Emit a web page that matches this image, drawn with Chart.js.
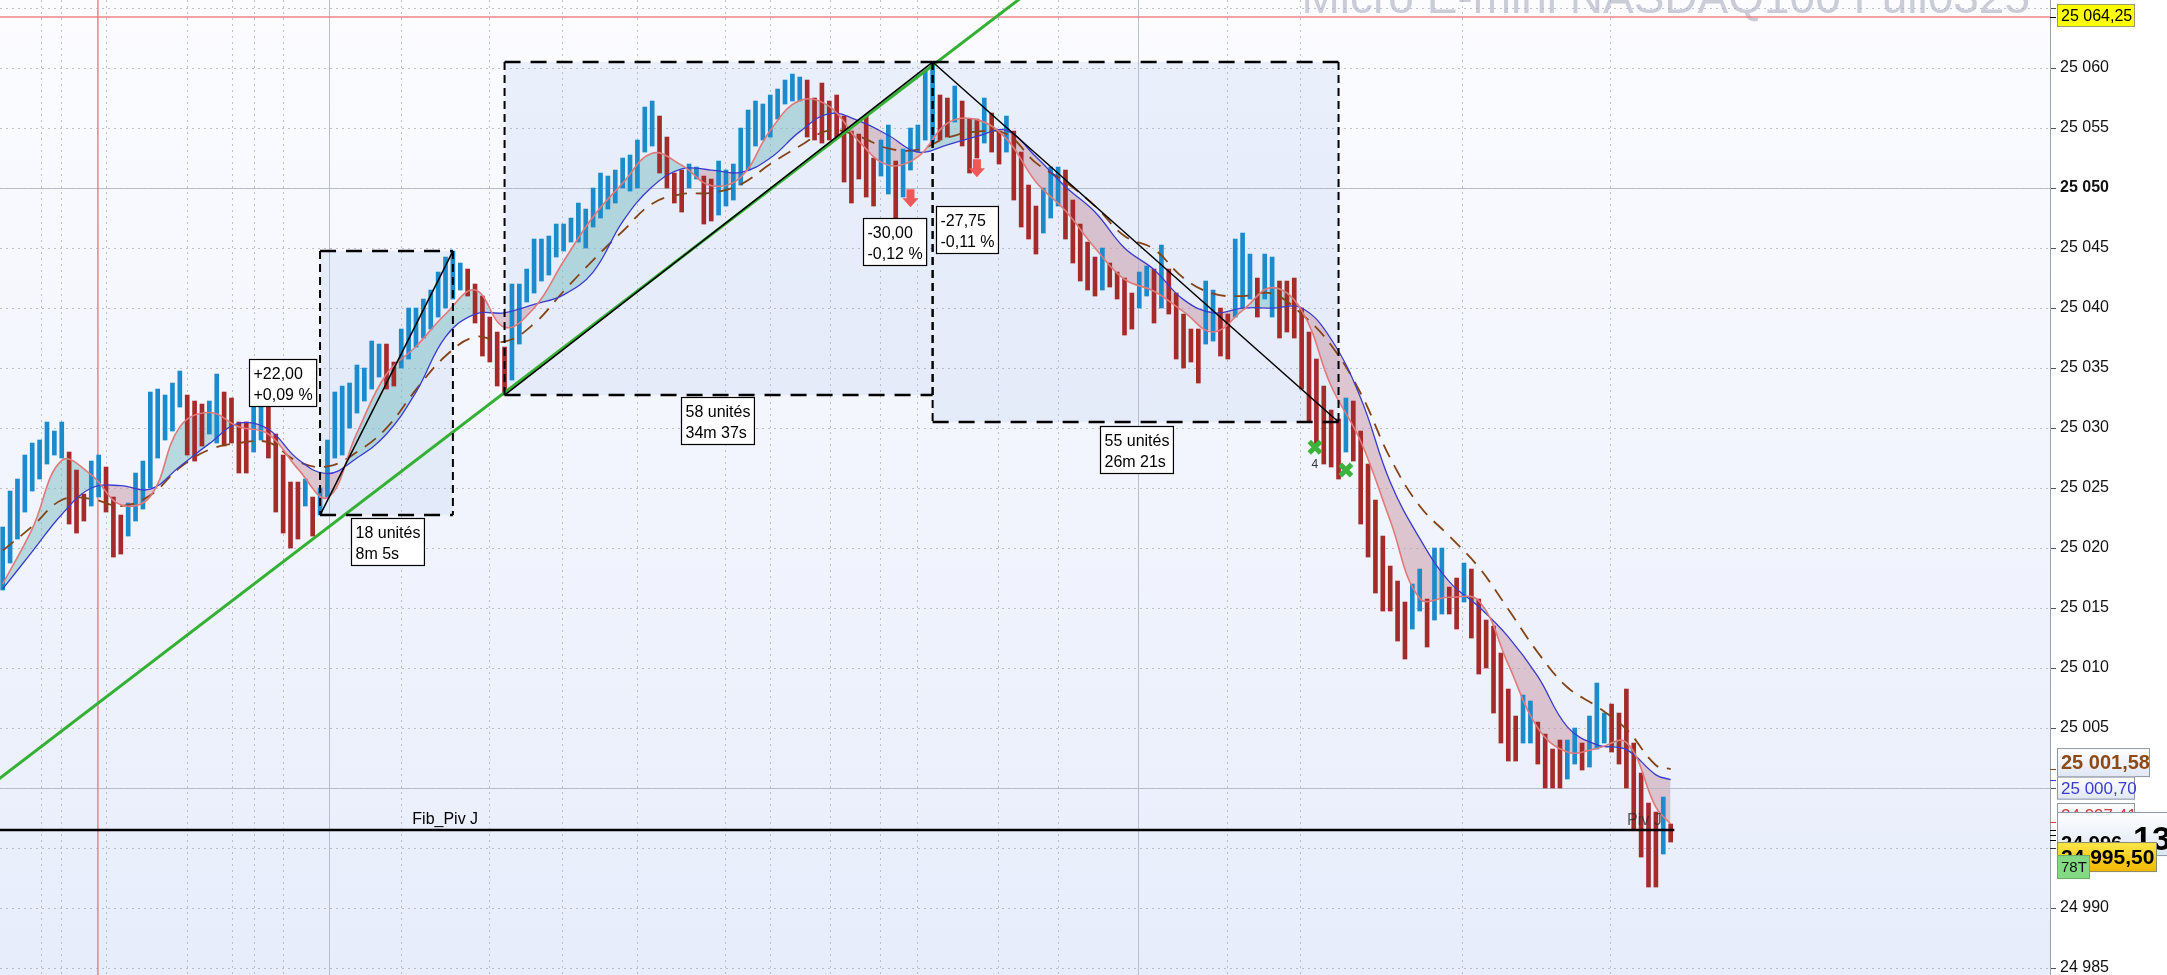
<!DOCTYPE html>
<html>
<head>
<meta charset="utf-8">
<script src="https://cdn.jsdelivr.net/npm/chart.js@4.4.1/dist/chart.umd.min.js"></script>
<style>
  html, body { margin: 0; padding: 0; background: #fff; overflow: hidden; }
  #wrap { width: 2167px; height: 975px; position: relative; }
</style>
</head>
<body>
<div id="wrap"><canvas id="chart"></canvas></div>
<script>
const FONT = '"Liberation Sans", Arial, sans-serif';
const TITLE = 'Micro E-mini NASDAQ100 Full0325';

// range bars, one per index
const highs = [
  25021.75, 25024.75, 25025.75, 25027.75, 25028.75, 25029, 25030.5, 25029.75, 25030.5, 25028,
  25026.5, 25024.5, 25027.25, 25027.75, 25026.75, 25024.25, 25022.75, 25023.75, 25026.25, 25027.25,
  25033, 25033.25, 25032.75, 25033.75, 25034.75, 25032.75, 25032.25, 25032, 25032.25, 25034.5,
  25033, 25032.5, 25030.5, 25030.5, 25031.75, 25032.5, 25031.75, 25029.5, 25027.75, 25025.5,
  25025.5, 25025.75, 25024.25, 25025, 25029, 25033, 25033.5, 25033.75, 25035.25, 25035,
  25037.25, 25037, 25037, 25035.5, 25038.25, 25040, 25040, 25040.75, 25041.5, 25043,
  25044.25, 25044.75, 25043.75, 25043.25, 25042, 25041, 25039.25, 25038, 25036.75, 25042,
  25042, 25043.25, 25045.75, 25045.75, 25046, 25047, 25047, 25047.5, 25048.75, 25048.25,
  25050, 25051.25, 25051, 25051.5, 25052.5, 25052.75, 25054, 25056.75, 25057.25, 25056,
  25054.25, 25051.25, 25051.5, 25052, 25051.75, 25051, 25050.75, 25052.25, 25051.5, 25052,
  25055, 25056.5, 25057.25, 25057, 25057.75, 25058.25, 25059, 25059.5, 25059.25, 25059,
  25057.5, 25058.75, 25057.25, 25057.75, 25056, 25054.75, 25054.5, 25056, 25052.5, 25054,
  25055.25, 25052.25, 25053.25, 25055, 25055.25, 25059.75, 25060.5, 25057.75, 25057.5, 25058.5,
  25057.25, 25055.75, 25055.75, 25057.5, 25056.25, 25054.75, 25056, 25054.75, 25053, 25050.25,
  25048.5, 25050, 25051.75, 25051.75, 25051.5, 25049, 25047, 25045.5, 25044.25, 25045,
  25043.75, 25043, 25042.5, 25041.25, 25043, 25043.5, 25043.25, 25045.25, 25043.25, 25041.25,
  25039.5, 25038.25, 25038.25, 25042.25, 25041.5, 25040, 25039.5, 25045.75, 25046.25, 25044.5,
  25042.5, 25044.5, 25044.25, 25042.25, 25042.25, 25042.5, 25040, 25038, 25035.75, 25033.5,
  25031.5, 25030.75, 25032.5, 25032.25, 25029.75, 25027, 25024, 25021, 25018.5, 25017.25,
  25015.5, 25017, 25018.25, 25015.75, 25020, 25020, 25016.75, 25017.5, 25018.75, 25018.25,
  25015.75, 25014, 25013.5, 25011.25, 25008.25, 25006, 25007.75, 25007.25, 25005.5, 25004.5,
  25003.25, 25004, 25004, 25005, 25003.75, 25006, 25008.75, 25006.25, 25007, 25006.25,
  25008.25, 25003.75, 25001.25, 24998.75, 24998, 24999.25, 24997
];
const lows = [
  25016.5, 25018.75, 25020.75, 25023, 25024.75, 25025.75, 25027, 25027.75, 25027.5, 25022,
  25021.25, 25022.25, 25023.5, 25024.25, 25023, 25019.25, 25019.5, 25021, 25022.25, 25023.25,
  25025, 25027.5, 25029, 25029.75, 25031.75, 25027.75, 25027.25, 25028.5, 25029.5, 25028.75,
  25028.5, 25028.75, 25026.25, 25026.25, 25028, 25029, 25027.5, 25023, 25021.25, 25020,
  25020.75, 25023.5, 25021, 25022.75, 25024.25, 25027.5, 25027.75, 25030, 25031.25, 25032.25,
  25033.25, 25034.25, 25033.25, 25033.5, 25035, 25035.75, 25036.75, 25037.5, 25038.25, 25039.25,
  25040, 25040.75, 25041.5, 25041, 25038.75, 25036, 25035.5, 25033.5, 25032.75, 25034,
  25037, 25040.5, 25041.25, 25042.25, 25042.75, 25044.25, 25044.75, 25045.5, 25045.5, 25045,
  25046.75, 25047.5, 25048.25, 25048.75, 25050, 25049.75, 25050, 25053, 25053.5, 25051.25,
  25050, 25048.75, 25048, 25050, 25050.75, 25047, 25047.25, 25047.75, 25048.5, 25049,
  25050.25, 25051.5, 25053.5, 25054, 25054.25, 25055.75, 25057, 25057.25, 25057.25, 25054.25,
  25054, 25053.75, 25054, 25054.25, 25050.5, 25048.75, 25050.75, 25049.25, 25048.5, 25051,
  25049.5, 25047.25, 25049.25, 25051.5, 25053, 25054, 25053.75, 25054, 25054.25, 25055.5,
  25053.5, 25051.25, 25052.5, 25053.75, 25053, 25052, 25053, 25049, 25046.75, 25045.75,
  25044.5, 25046.25, 25047.5, 25048.5, 25045.75, 25043.75, 25042.25, 25041.5, 25041, 25041.5,
  25041.75, 25040.75, 25037.75, 25038.25, 25040, 25041, 25038.75, 25040, 25039.5, 25035.75,
  25035, 25035.5, 25033.75, 25037, 25037.25, 25036, 25035.75, 25039.25, 25040, 25040.75,
  25039.25, 25040.75, 25039.25, 25037.5, 25038, 25037.5, 25033.25, 25030.5, 25028.5, 25027,
  25026.75, 25025.75, 25028, 25027.25, 25022, 25019.25, 25016.25, 25014.75, 25014.75, 25012.25,
  25010.75, 25013.25, 25014.75, 25011.75, 25014, 25014.5, 25014.5, 25013.25, 25015.5, 25012.5,
  25009.5, 25010, 25006.25, 25003.75, 25002.25, 25002.25, 25003.75, 25003.75, 25002, 25000,
  25000, 25000, 25000.75, 25002, 25001.5, 25001.75, 25003.25, 25003.75, 25003, 25002,
  25000, 24996.5, 24994.25, 24991.75, 24991.75, 24994.5, 24995.5
];
// u = up bar (blue), d = down bar (red)
const dirs = [
  'uuuuuuuuu', 'ddd', 'uu', 'ddd', 'uuuuuuuu', 'ddd', 'uu', 'dddd', 'uu', 'ddddd', 'u', 'd',
  'uuuuuuuuu', 'dd', 'uuuuuuuuu', 'dddddd', 'uuuuuuuuuuuuuuuuuuuu', 'dddd', 'uu', 'dd',
  'uuuuuuuuuuuu', 'dddddddddd', 'uu', 'd', 'uuuuu', 'dd', 'u', 'ddd', 'u', 'dd', 'u', 'dddd',
  'uuu', 'ddddd', 'u', 'dddd', 'uu', 'd', 'u', 'ddddd', 'uu', 'dd', 'uuu', 'd', 'uu',
  'ddddddddd', 'u', 'dddddddd', 'uu', 'd', 'uu', 'dd', 'u', 'ddddddd', 'uu', 'dddd', 'uu',
  'd', 'uuu', 'ddddddd', 'u', 'd'
].join('');

// moving averages read at these bar indices
const maIdx = [
  0, 4, 8, 12, 16, 20, 24, 28, 32, 36, 40, 44, 48, 52, 56, 60, 64, 68, 72, 76,
  80, 84, 88, 92, 96, 100, 104, 108, 112, 116, 120, 124, 128, 132, 136, 140, 144, 148, 152, 156,
  160, 164, 168, 172, 176, 180, 184, 188, 192, 196, 200, 204, 208, 212, 216, 220, 224, 226
];
const fastMA = [
  25017.0, 25021.6, 25027.3, 25026.1, 25023.6, 25024.3, 25030.1, 25031.3, 25030.1, 25029.5,
  25026.6, 25024.2, 25029.6, 25034.5, 25036.8, 25039.5, 25041.5, 25038.4, 25040.0, 25043.9,
  25047.6, 25050.4, 25052.9, 25051.9, 25050.2, 25050.9, 25054.8, 25057.3, 25056.8, 25053.9,
  25051.9, 25052.6, 25055.4, 25055.7, 25054.1, 25050.5, 25048.1, 25045.0, 25042.4, 25041.4,
  25039.7, 25038.0, 25039.8, 25041.7, 25039.8, 25033.5, 25028.9, 25022.3, 25015.8, 25015.9,
  25015.6, 25010.3, 25005.0, 25003.0, 25003.3, 25003.8, 24998.4, 24997.0
];
const midMA = [
  25016.6, 25019.7, 25022.8, 25025.0, 25025.2, 25024.9, 25026.8, 25028.7, 25030.4, 25029.9,
  25027.4, 25026.2, 25027.5, 25029.5, 25033.0, 25037.6, 25039.5, 25039.6, 25040.3, 25041.1,
  25043.0, 25047.2, 25050.1, 25051.6, 25051.5, 25051.3, 25052.5, 25054.7, 25056.2, 25055.6,
  25054.4, 25053.0, 25053.6, 25054.3, 25054.8, 25052.6, 25050.1, 25048.0, 25045.0, 25043.2,
  25040.7, 25039.6, 25040.0, 25040.0, 25040.0, 25037.4, 25032.5, 25025.5, 25020.8, 25017.2,
  25015.1, 25012.6, 25009.3, 25005.1, 25003.6, 25003.2, 25001.1, 25000.7
];
const slowMA = [
  25019.8, 25021.8, 25024.0, 25024.1, 25023.5, 25024.4, 25026.7, 25028.2, 25028.75, 25028.8,
  25027.2, 25026.8, 25028.0, 25030.0, 25033.2, 25036.0, 25037.6, 25037.2, 25038.7, 25041.4,
  25044.0, 25046.4, 25048.7, 25049.5, 25049.6, 25050.3, 25052.0, 25053.5, 25054.8, 25054.3,
  25053.3, 25053.2, 25054.2, 25054.7, 25054.5, 25052.1, 25050.5, 25048.5, 25046.0, 25044.9,
  25042.5, 25041.2, 25041.0, 25041.2, 25039.5, 25036.9, 25032.9, 25027.5, 25023.5, 25021.0,
  25018.4, 25014.9, 25011.3, 25008.4, 25006.8, 25004.9, 25001.9, 25001.58
];

const trendLine = [[-1, 25000.53], [140, 25066.8]];
const exits = [[177.8, 25028.4], [182, 25026.5]];
const arrows = [[123, 25049.9], [132, 25052.4]];

const timeGrid = [5.19, 8.03, 14.13, 25.1, 31.2, 34.05, 37.98, 54.1, 66.0, 75.9, 86.08, 98.0,
  103.97, 112.1, 119.0, 123.9, 134.99, 143.0, 165.9, 175.9, 197.8, 217.9];
const sessionLines = [44.2, 153.8];
const markerLine = 12.9;
const roundLevels = [25050, 25000];
const highLevel = 25064.25;
const pivotLevel = 24996.5;
const lastPrice = 24995.5;

// measured moves: [from bar, to bar, low, high]
const boxes = [[43, 61, 25022.75, 25044.75], [68, 126, 25032.75, 25060.5], [126, 181, 25030.5, 25060.5]];
const moves = [[43, 25022.75, 61, 25044.75], [68, 25032.75, 126, 25060.5], [126, 25060.5, 181, 25030.5]];
const notes = [
  [33.4, 25035.75, '+22,00', '+0,09 %'],
  [47.2, 25022.5, '18 unités', '8m 5s'],
  [91.9, 25032.6, '58 unités', '34m 37s'],
  [116.6, 25047.5, '-30,00', '-0,12 %'],
  [126.5, 25048.5, '-27,75', '-0,11 %'],
  [148.7, 25030.2, '55 unités', '26m 21s']
];

const upBars = [], downBars = [];
highs.forEach((h, i) => (dirs[i] === 'u' ? upBars : downBars).push({ x: i, y: [lows[i], h] }));
const maPoints = arr => maIdx.map((x, k) => ({ x: x, y: arr[k] }));

function price(v) {
  const s = String(Math.round(v));
  return s.slice(0, s.length - 3) + ' ' + s.slice(-3);
}

function tag(ctx, x, top, w, h, fill, stroke, text, font, color) {
  ctx.fillStyle = fill;
  ctx.fillRect(x, top, w, h);
  ctx.strokeStyle = stroke;
  ctx.lineWidth = 1;
  ctx.strokeRect(x + 0.5, top + 0.5, w - 1, h - 1);
  ctx.font = font;
  ctx.fillStyle = color;
  ctx.textAlign = 'left';
  ctx.textBaseline = 'middle';
  ctx.fillText(text, x + 4, top + h / 2 + 1);
}

function vgrad(ctx, top, h, c0, c1) {
  const g = ctx.createLinearGradient(0, top, 0, top + h);
  g.addColorStop(0, c0);
  g.addColorStop(1, c1);
  return g;
}

const overlay = {
  id: 'overlay',
  beforeDraw(chart) {
    const { ctx, chartArea: a, scales: { x, y } } = chart;
    ctx.save();
    ctx.fillStyle = vgrad(ctx, a.top, a.bottom - a.top, '#fcfcff', '#e7edfb');
    ctx.fillRect(a.left, a.top, a.right - a.left, a.bottom - a.top);

    ctx.font = '46px ' + FONT;
    ctx.fillStyle = 'rgba(196,200,212,0.9)';
    ctx.textAlign = 'right';
    ctx.textBaseline = 'alphabetic';
    ctx.fillText(TITLE, 2030, 13);

    ctx.fillStyle = 'rgba(190,208,242,0.28)';
    boxes.forEach(([i0, i1, lo, hi]) => {
      const x0 = x.getPixelForValue(i0), x1 = x.getPixelForValue(i1);
      const y0 = y.getPixelForValue(hi), y1 = y.getPixelForValue(lo);
      ctx.fillRect(x0, y0, x1 - x0, y1 - y0);
    });
    ctx.restore();
  },
  beforeDatasetsDraw(chart) {
    const { ctx, chartArea: a, scales: { x, y } } = chart;
    ctx.save();
    ctx.strokeStyle = 'rgba(178,184,200,0.9)';
    ctx.lineWidth = 1;
    roundLevels.forEach(v => {
      const py = Math.round(y.getPixelForValue(v)) + 0.5;
      ctx.beginPath(); ctx.moveTo(a.left, py); ctx.lineTo(a.right, py); ctx.stroke();
    });
    sessionLines.forEach(v => {
      const px = Math.round(x.getPixelForValue(v)) + 0.5;
      ctx.beginPath(); ctx.moveTo(px, a.top); ctx.lineTo(px, a.bottom); ctx.stroke();
    });
    ctx.strokeStyle = 'rgba(236,120,120,0.9)';
    ctx.lineWidth = 1.5;
    const mx = x.getPixelForValue(markerLine);
    ctx.beginPath(); ctx.moveTo(mx, a.top); ctx.lineTo(mx, a.bottom); ctx.stroke();
    const hy = y.getPixelForValue(highLevel);
    ctx.beginPath(); ctx.moveTo(a.left, hy); ctx.lineTo(a.right, hy); ctx.stroke();
    ctx.restore();
  },
  afterDatasetsDraw(chart) {
    const { ctx, scales: { x, y } } = chart;
    ctx.save();
    // dashed measurement boxes
    ctx.strokeStyle = '#000';
    boxes.forEach(([i0, i1, lo, hi]) => {
      const x0 = x.getPixelForValue(i0), x1 = x.getPixelForValue(i1);
      const y0 = y.getPixelForValue(hi), y1 = y.getPixelForValue(lo);
      ctx.lineWidth = 2.5;
      ctx.setLineDash([16, 10]);
      ctx.beginPath();
      ctx.moveTo(x0, y0); ctx.lineTo(x1, y0);
      ctx.moveTo(x0, y1); ctx.lineTo(x1, y1);
      ctx.stroke();
      ctx.lineWidth = 2;
      ctx.setLineDash([8, 5]);
      ctx.beginPath();
      ctx.moveTo(x0, y0); ctx.lineTo(x0, y1);
      ctx.moveTo(x1, y0); ctx.lineTo(x1, y1);
      ctx.stroke();
    });
    ctx.setLineDash([]);
    ctx.lineWidth = 1.5;
    moves.forEach(([i0, p0, i1, p1]) => {
      ctx.beginPath();
      ctx.moveTo(x.getPixelForValue(i0), y.getPixelForValue(p0));
      ctx.lineTo(x.getPixelForValue(i1), y.getPixelForValue(p1));
      ctx.stroke();
    });

    // pivot line
    const py = y.getPixelForValue(pivotLevel);
    ctx.lineWidth = 2.5;
    ctx.beginPath();
    ctx.moveTo(x.getPixelForValue(-1), py);
    ctx.lineTo(x.getPixelForValue(highs.length - 0.5), py);
    ctx.stroke();
    ctx.font = '16px ' + FONT;
    ctx.textAlign = 'left';
    ctx.textBaseline = 'alphabetic';
    ctx.fillStyle = '#000';
    ctx.fillText('Fib_Piv J', x.getPixelForValue(55.5), py - 6);
    ctx.fillStyle = 'rgba(40,40,40,0.75)';
    ctx.fillText('Piv J', x.getPixelForValue(220.1), py - 5);

    // text notes
    notes.forEach(([i, p, l1, l2]) => {
      const bx = Math.round(x.getPixelForValue(i)) + 0.5, by = Math.round(y.getPixelForValue(p)) + 0.5;
      ctx.font = '16px ' + FONT;
      const w = Math.max(ctx.measureText(l1).width, ctx.measureText(l2).width) + 8;
      ctx.fillStyle = '#fff';
      ctx.fillRect(bx, by, w, 47);
      ctx.strokeStyle = '#000';
      ctx.lineWidth = 1.2;
      ctx.strokeRect(bx, by, w, 47);
      ctx.fillStyle = '#000';
      ctx.fillText(l1, bx + 4, by + 19);
      ctx.fillText(l2, bx + 4, by + 40);
    });

    // down arrows
    ctx.fillStyle = 'rgb(238,88,88)';
    arrows.forEach(([i, p]) => {
      const ax = x.getPixelForValue(i), ay = y.getPixelForValue(p);
      ctx.beginPath();
      ctx.moveTo(ax - 4, ay); ctx.lineTo(ax + 4, ay); ctx.lineTo(ax + 4, ay + 9);
      ctx.lineTo(ax + 8, ay + 9); ctx.lineTo(ax, ay + 18); ctx.lineTo(ax - 8, ay + 9);
      ctx.lineTo(ax - 4, ay + 9); ctx.closePath();
      ctx.fill();
    });
    ctx.font = '12px ' + FONT;
    ctx.fillStyle = '#333';
    ctx.textAlign = 'center';
    ctx.fillText('4', x.getPixelForValue(exits[0][0]), y.getPixelForValue(exits[0][1]) + 21);
    ctx.restore();
  },
  afterDraw(chart) {
    const { ctx, chartArea: a, scales: { y } } = chart;
    const ax = a.right;
    const lx = ax + 7;
    ctx.save();
    const yHigh = y.getPixelForValue(highLevel);
    const ySlow = y.getPixelForValue(slowMA[slowMA.length - 1]);
    const yMid = y.getPixelForValue(midMA[midMA.length - 1]);
    const yPiv = y.getPixelForValue(pivotLevel);
    const yLast = y.getPixelForValue(lastPrice);

    const ticks = [[yHigh, '#000'], [ySlow, '#8b4a17'], [yMid, '#3a3acc'], [yPiv - 8, '#d04040'],
      [yPiv, '#000'], [yPiv + 5, '#000'], [yPiv + 10, '#000'], [yLast + 6, '#333']];
    ticks.forEach(([ty, c]) => {
      ctx.strokeStyle = c; ctx.lineWidth = 1;
      ctx.beginPath(); ctx.moveTo(ax, Math.round(ty) + 0.5); ctx.lineTo(ax + 6, Math.round(ty) + 0.5); ctx.stroke();
    });

    tag(ctx, lx, yHigh - 13, 78, 23, '#ffff00', '#9a9a70', '25 064,25', '16px ' + FONT, '#000');
    tag(ctx, lx, ySlow - 21, 93, 29, vgrad(ctx, ySlow - 21, 29, '#ffffff', '#dfe6f4'), '#8e98a4',
      '25 001,58', 'bold 20px ' + FONT, '#8b4a17');
    tag(ctx, lx, yMid - 3, 78, 23, vgrad(ctx, yMid - 3, 23, '#ffffff', '#dfe6f4'), '#8e98a4',
      '25 000,70', '17px ' + FONT, '#3a3acc');
    tag(ctx, lx, yPiv - 27, 78, 24, vgrad(ctx, yPiv - 27, 24, '#ffffff', '#dfe6f4'), '#8e98a4',
      '24 997,41', '17px ' + FONT, '#d04040');

    // pivot tag with large decimals
    const pt = yPiv - 18;
    ctx.fillStyle = vgrad(ctx, pt, 44, '#ffffff', '#dce4f3');
    ctx.fillRect(lx, pt, 120, 44);
    ctx.strokeStyle = '#8e98a4';
    ctx.strokeRect(lx + 0.5, pt + 0.5, 119, 43);
    ctx.fillStyle = '#000';
    ctx.textAlign = 'left';
    ctx.textBaseline = 'alphabetic';
    ctx.font = 'bold 20px ' + FONT;
    ctx.fillText('24 996', lx + 4, pt + 38);
    ctx.font = 'bold 34px ' + FONT;
    ctx.fillText('13', lx + 76, pt + 38);

    tag(ctx, lx, yLast, 100, 30, vgrad(ctx, yLast, 30, '#ffe94a', '#f2b600'), '#8a8a6a',
      '24 995,50', 'bold 21px ' + FONT, '#000');
    tag(ctx, lx, yLast + 13, 33, 24, '#84da84', '#6aac6a', '78T', '15px ' + FONT, '#111');
    ctx.restore();
  }
};

Chart.defaults.font.family = FONT;

new Chart(document.getElementById('chart'), {
  type: 'bar',
  data: {
    datasets: [
      {
        type: 'line', label: 'fast', data: maPoints(fastMA), order: 1,
        borderColor: '#e07a7a', borderWidth: 1.6, pointRadius: 0, tension: 0.4,
        fill: { target: 1, above: 'rgba(120,185,190,0.48)', below: 'rgba(200,150,162,0.5)' }
      },
      {
        type: 'line', label: 'mid', data: maPoints(midMA), order: 2,
        borderColor: '#3b3bd0', borderWidth: 1.3, pointRadius: 0, tension: 0.4, fill: false
      },
      {
        type: 'line', label: 'slow', data: maPoints(slowMA), order: 3,
        borderColor: '#844417', borderWidth: 1.8, borderDash: [14, 9], pointRadius: 0, tension: 0.4, fill: false
      },
      {
        type: 'line', label: 'trend', data: trendLine.map(([x, y]) => ({ x, y })), order: 0,
        borderColor: '#34b034', borderWidth: 3, pointRadius: 0, fill: false
      },
      {
        type: 'line', label: 'exits', data: exits.map(([x, y]) => ({ x, y })), order: -1,
        showLine: false, pointStyle: 'crossRot', pointRadius: 8, pointBorderWidth: 5,
        pointBorderColor: '#3cb43c', pointBackgroundColor: '#3cb43c'
      },
      {
        label: 'up', data: upBars, order: 10, grouped: false, barThickness: 4,
        backgroundColor: '#1b8bcb', borderWidth: 0
      },
      {
        label: 'down', data: downBars, order: 10, grouped: false, barThickness: 4,
        backgroundColor: '#a52a2a', borderWidth: 0
      }
    ]
  },
  options: {
    responsive: true,
    maintainAspectRatio: false,
    devicePixelRatio: 1,
    animation: false,
    events: [],
    layout: { padding: 0, autoPadding: false },
    plugins: {
      legend: { display: false },
      tooltip: { enabled: false },
      filler: { drawTime: 'beforeDatasetsDraw' }
    },
    scales: {
      x: {
        type: 'linear', min: -0.366, max: 277.4, offset: false,
        afterBuildTicks: s => { s.ticks = timeGrid.map(v => ({ value: v })); },
        afterFit: s => { s.height = 0; s.paddingLeft = 0; s.paddingRight = 0; },
        ticks: { display: false },
        grid: { color: 'rgba(168,174,192,0.75)', drawTicks: false, offset: false },
        border: { display: false, dash: [2, 4] }
      },
      y: {
        position: 'right', min: 24984.42, max: 25065.67,
        afterFit: s => { s.width = 117; s.paddingTop = 0; s.paddingBottom = 0; },
        ticks: {
          stepSize: 5, includeBounds: false, padding: 4, color: '#111',
          font: c => ({ family: FONT, size: 16, weight: c.tick && Math.round(c.tick.value) % 50 === 0 ? 'bold' : 'normal' }),
          callback: v => (v > highLevel - 2 ? '' : price(v))
        },
        grid: { color: 'rgba(168,174,192,0.75)', lineWidth: 1, tickLength: 6, tickColor: '#555', drawTicks: true },
        border: { display: true, color: '#9aa3ad', width: 1, dash: [2, 4] }
      }
    }
  },
  plugins: [overlay]
});
</script>
</body>
</html>
